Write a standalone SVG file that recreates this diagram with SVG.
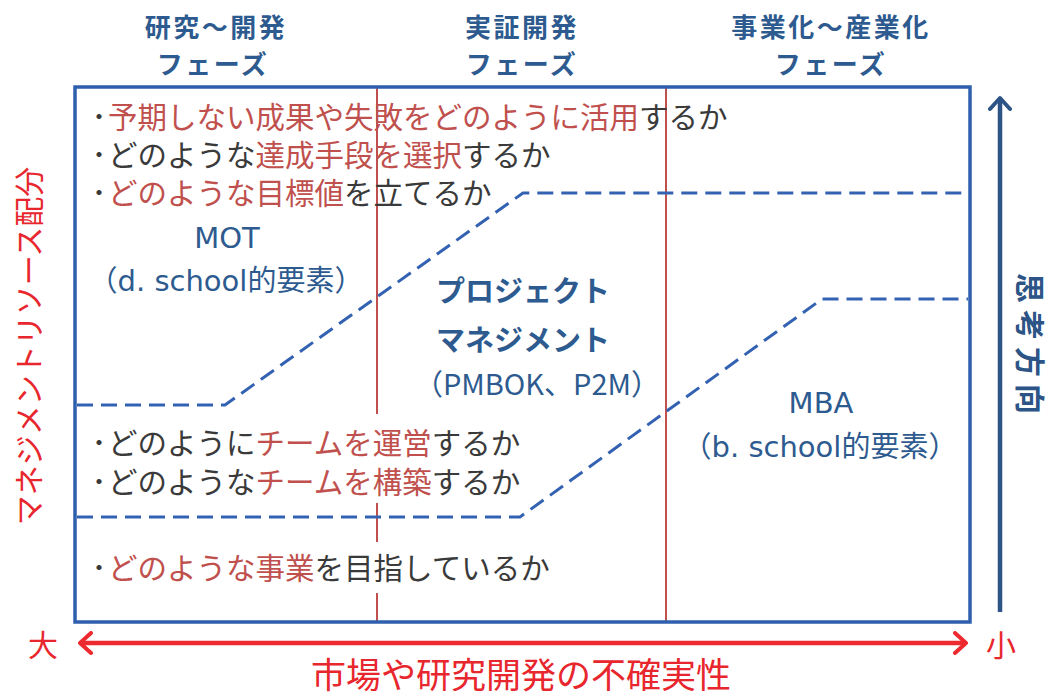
<svg xmlns="http://www.w3.org/2000/svg" width="1055" height="697" viewBox="0 0 1055 697">
<style>
text{font-family:"Noto Sans CJK JP","Noto Sans CJK SC",sans-serif;}
.hd{font-size:26px;font-weight:700;fill:#2e5b8f;text-anchor:middle;letter-spacing:2.5px;}
.bl{font-size:29.5px;fill:#3a3a3a;}
.dot{font-size:20px;font-weight:700;fill:#3a3a3a;}
.r{fill:#c0504d;}
.lbl{font-size:29px;fill:#2e5b8f;text-anchor:middle;}
.wl{font-family:"DejaVu Sans","Noto Sans CJK JP",sans-serif;}
.dash{fill:none;stroke:#3462b2;stroke-width:3;stroke-dasharray:16 8;}
.div{stroke:#c0504d;stroke-width:2;}
.red{fill:#e8262d;}
</style>
<defs>
<marker id="hb" markerUnits="userSpaceOnUse" viewBox="0 0 20 24" refX="15" refY="12" markerWidth="20" markerHeight="24" orient="auto-start-reverse">
<path d="M4,2 L15,12 L4,22" fill="none" stroke="#2c5486" stroke-width="4" stroke-linecap="round" stroke-linejoin="round"/>
</marker>
<marker id="hr" markerUnits="userSpaceOnUse" viewBox="0 0 20 24" refX="15" refY="12" markerWidth="20" markerHeight="24" orient="auto-start-reverse">
<path d="M4,2 L15,12 L4,22" fill="none" stroke="#ec2a30" stroke-width="4" stroke-linecap="round" stroke-linejoin="round"/>
</marker>
</defs>
<rect width="1055" height="697" fill="#ffffff"/>

<g id="headers">
<text class="hd"><tspan x="216" y="37">研究～開発</tspan><tspan x="213" y="74">フェーズ</tspan></text>
<text class="hd"><tspan x="522" y="37">実証開発</tspan><tspan x="522" y="74">フェーズ</tspan></text>
<text class="hd"><tspan x="831" y="37">事業化～産業化</tspan><tspan x="831" y="74">フェーズ</tspan></text>
</g>

<g id="frame">
<line class="div" x1="377" y1="88" x2="377" y2="621"/>
<line class="div" x1="666" y1="88" x2="666" y2="621"/>
<rect x="86" y="414" width="450" height="89" fill="#ffffff"/>
<rect x="86" y="542" width="462" height="51" fill="#ffffff"/>
<rect x="75" y="87" width="895" height="535" fill="none" stroke="#2e5fad" stroke-width="3.5"/>
</g>

<g id="connectors">
<polyline class="dash" points="77,405 225,405 523,193 968,193"/>
<polyline class="dash" points="77,517 520,517 822,299 968,299"/>
<line x1="1000" y1="612" x2="1000" y2="98" stroke="#2c5486" stroke-width="4.5" marker-end="url(#hb)"/>
<line x1="80" y1="643" x2="966" y2="643" stroke="#ec2a30" stroke-width="4.5" marker-start="url(#hr)" marker-end="url(#hr)"/>
</g>

<g id="top-bullets">
<text class="dot" x="89" y="124">・</text>
<text class="bl" x="108" y="128"><tspan class="r">予期しない成果や失敗をどのように活用</tspan>するか</text>
<text class="dot" x="89" y="162">・</text>
<text class="bl" x="108" y="166">どのような<tspan class="r">達成手段を選択</tspan>するか</text>
<text class="dot" x="89" y="200">・</text>
<text class="bl" x="108" y="204"><tspan class="r">どのような目標値</tspan>を立てるか</text>
</g>

<g id="mot">
<text class="lbl wl" x="227" y="248">MOT</text>
<text class="lbl wl" x="226" y="291">（d. school的要素）</text>
</g>

<g id="pm">
<text class="lbl" x="523" y="302" font-weight="700">プロジェクト</text>
<text class="lbl" x="523" y="351" font-weight="700">マネジメント</text>
<text class="lbl" x="537" y="395">（PMBOK、P2M）</text>
</g>

<g id="mba">
<text class="lbl wl" x="821" y="413">MBA</text>
<text class="lbl wl" x="820" y="457">（b. school的要素）</text>
</g>

<g id="bottom-bullets">
<text class="dot" x="89" y="450">・</text>
<text class="bl" x="108" y="454" font-size="29">どのように<tspan class="r">チームを運営</tspan>するか</text>
<text class="dot" x="89" y="489">・</text>
<text class="bl" x="108" y="493" font-size="29">どのような<tspan class="r">チームを構築</tspan>するか</text>
<text class="dot" x="89" y="575">・</text>
<text class="bl" x="108" y="579" font-size="29"><tspan class="r">どのような事業</tspan>を目指しているか</text>
</g>

<g id="axes-labels">
<text class="red" font-size="30" text-anchor="middle" transform="translate(40,346) rotate(-90)">マネジメントリソース配分</text>
<text fill="#2c5486" font-size="30" font-weight="700" letter-spacing="7" transform="translate(1019,273) rotate(90)">思考方向</text>
<text class="red" font-size="30" x="43" y="656" text-anchor="middle">大</text>
<text class="red" font-size="30" x="1001" y="656" text-anchor="middle">小</text>
<text class="red" font-size="35" x="521" y="688" text-anchor="middle">市場や研究開発の不確実性</text>
</g>
</svg>
